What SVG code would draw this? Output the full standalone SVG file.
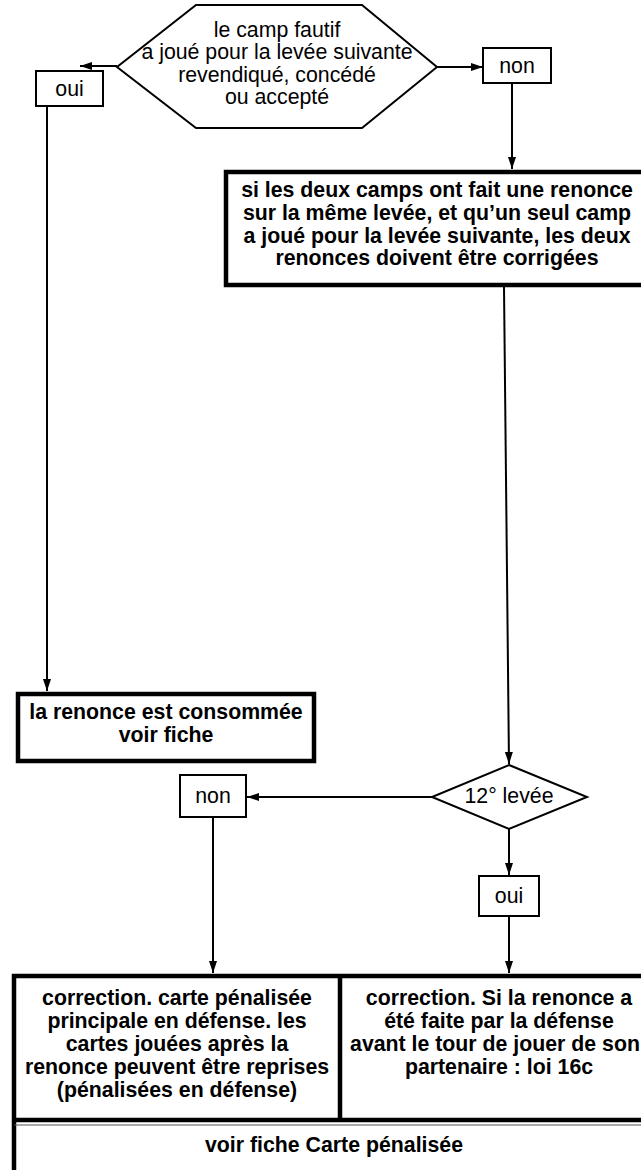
<svg xmlns="http://www.w3.org/2000/svg" width="641" height="1170" viewBox="0 0 641 1170">
<style>
.thin{fill:#fff;stroke:#000;stroke-width:2}
.thick{fill:#fff;stroke:#000;stroke-width:4.5}
.t{font-family:"Liberation Sans",Arial,sans-serif;font-size:21.3px;fill:#000;text-anchor:middle}
.b{font-family:"Liberation Sans",Arial,sans-serif;font-size:21.3px;font-weight:bold;fill:#000;text-anchor:middle}
.c{fill:none;stroke:#000;stroke-width:2}
</style>
<defs>
<marker id="ah" markerUnits="userSpaceOnUse" markerWidth="12" markerHeight="10" viewBox="0 0 12 10" refX="12" refY="5" orient="auto">
<path d="M0,1 L12,5 L0,9 Z" fill="#000"/>
</marker>
</defs>
<rect width="641" height="1170" fill="#fff"/>
<g id="connectors">
<path class="c" d="M117,66 H80" marker-end="url(#ah)"/>
<path class="c" d="M437,67 H483" marker-end="url(#ah)"/>
<path class="c" d="M512,83 V169" marker-end="url(#ah)"/>
<path class="c" d="M47,106 V691" marker-end="url(#ah)"/>
<path class="c" d="M504,287 L509,764" marker-end="url(#ah)"/>
<path class="c" d="M432,797 H247" marker-end="url(#ah)"/>
<path class="c" d="M509,829 V875" marker-end="url(#ah)"/>
<path class="c" d="M213,817 V973" marker-end="url(#ah)"/>
<path class="c" d="M509,916 V973" marker-end="url(#ah)"/>
</g>
<g id="decision1">
<polygon class="thin" points="196,5 362,5 437,67 362,128 196,128 117,67"/>
<text class="t" x="277" y="37">le camp fautif</text>
<text class="t" x="277" y="59">a joué pour la levée suivante</text>
<text class="t" x="277" y="82">revendiqué, concédé</text>
<text class="t" x="277" y="104">ou accepté</text>
</g>
<g id="oui1">
<rect class="thin" x="36" y="71" width="67" height="35"/>
<text class="t" x="69.5" y="96">oui</text>
</g>
<g id="non1">
<rect class="thin" x="483" y="48" width="68" height="35"/>
<text class="t" x="517" y="73">non</text>
</g>
<g id="both">
<rect class="thick" x="226" y="172" width="430" height="113"/>
<text class="b" x="437" y="197">si les deux camps ont fait une renonce</text>
<text class="b" x="437" y="220">sur la même levée, et qu’un seul camp</text>
<text class="b" x="437" y="243">a joué pour la levée suivante, les deux</text>
<text class="b" x="437" y="265">renonces doivent être corrigées</text>
</g>
<g id="consumed">
<rect class="thick" x="18" y="694" width="296" height="67"/>
<text class="b" x="166" y="719">la renonce est consommée</text>
<text class="b" x="166" y="742">voir fiche</text>
</g>
<g id="decision2">
<polygon class="thin" points="509,765 587,797 509,829 432,797"/>
<text class="t" x="509" y="803">12° levée</text>
</g>
<g id="non2">
<rect class="thin" x="180" y="775" width="66" height="42"/>
<text class="t" x="213" y="803">non</text>
</g>
<g id="oui2">
<rect class="thin" x="479" y="876" width="60" height="40"/>
<text class="t" x="509" y="903">oui</text>
</g>
<g id="table">
<rect class="thick" x="14" y="976" width="650" height="210"/>
<line x1="340" y1="976" x2="340" y2="1121" stroke="#000" stroke-width="4.5"/>
<line x1="14" y1="1120" x2="660" y2="1120" stroke="#000" stroke-width="4.5"/>
<line x1="14" y1="1125" x2="660" y2="1125" stroke="#555" stroke-width="1.2"/>
</g>
<g id="cellLeft">
<text class="b" x="177" y="1005">correction. carte pénalisée</text>
<text class="b" x="177" y="1028">principale en défense. les</text>
<text class="b" x="177" y="1051">cartes jouées après la</text>
<text class="b" x="177" y="1074">renonce peuvent être reprises</text>
<text class="b" x="177" y="1097">(pénalisées en défense)</text>
</g>
<g id="cellRight">
<text class="b" x="499" y="1005">correction. Si la renonce a</text>
<text class="b" x="499" y="1028">été faite par la défense</text>
<text class="b" x="495" y="1051">avant le tour de jouer de son</text>
<text class="b" x="499" y="1074">partenaire : loi 16c</text>
</g>
<g id="cellBottom">
<text class="b" x="334" y="1152">voir fiche Carte pénalisée</text>
</g>
</svg>
